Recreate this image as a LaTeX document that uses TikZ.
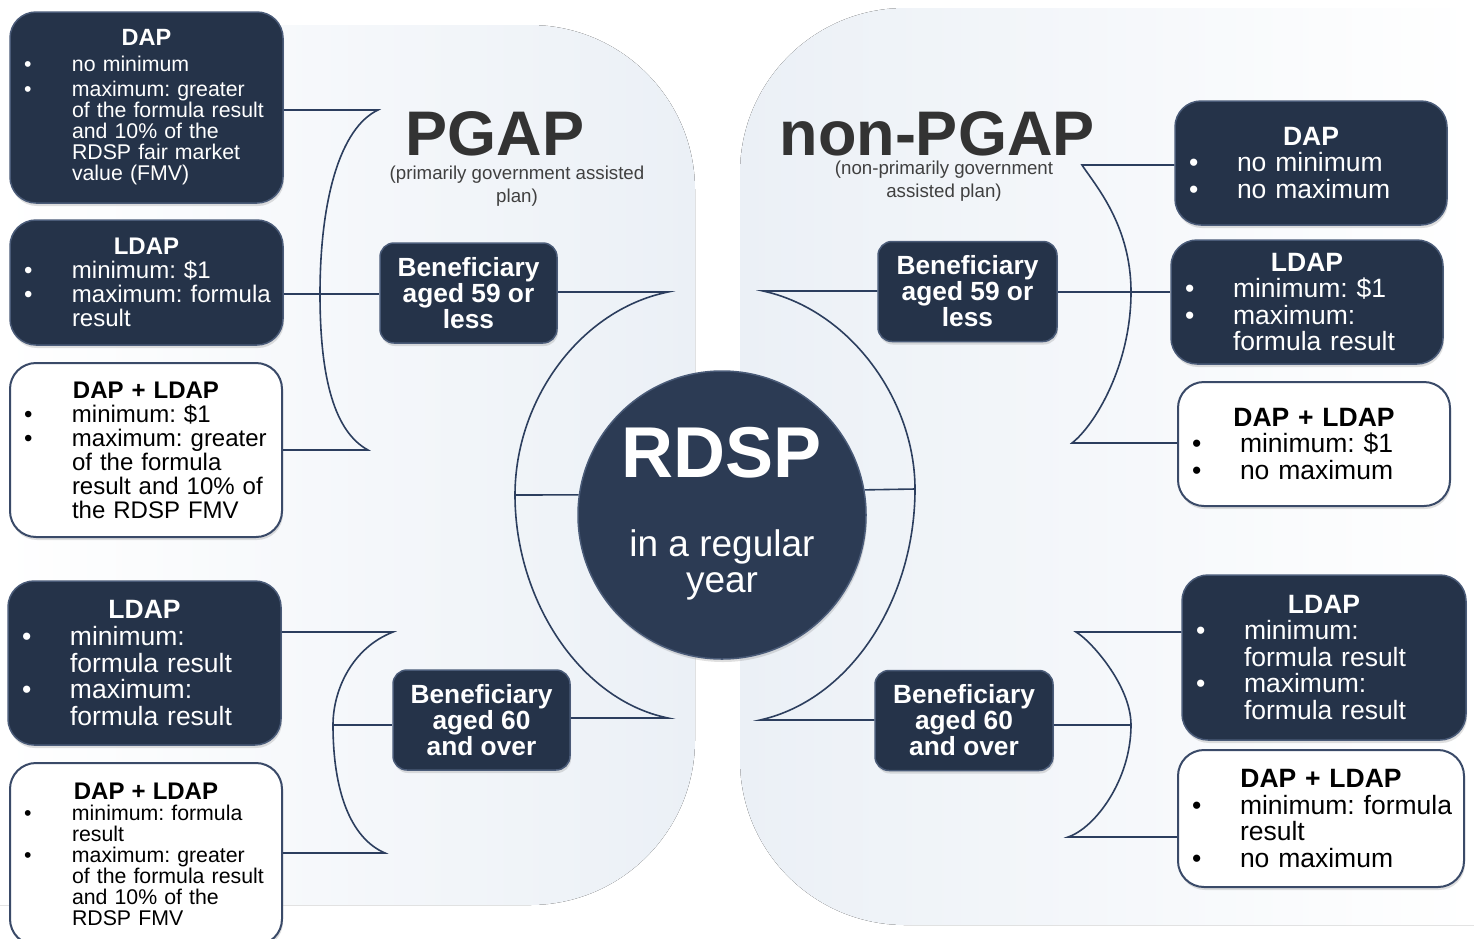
\documentclass[tikz,border=0pt]{standalone}
\usepackage{fontspec}
\setmainfont{Liberation Sans}
\setsansfont{Liberation Sans}
\frenchspacing
\usetikzlibrary{shapes, positioning, shadows}
\definecolor{navyfill}{RGB}{37, 51, 73}
\definecolor{hubfill}{RGB}{44, 59, 84}
\definecolor{navyedge}{RGB}{74, 91, 120}
\definecolor{whiteedge}{RGB}{58, 74, 104}
\definecolor{linknavy}{RGB}{44, 62, 94}
\definecolor{panelblue}{RGB}{235, 240, 246}
\definecolor{titlegray}{RGB}{51, 51, 51}
\definecolor{subgray}{RGB}{64, 64, 64}

\newcommand{\boxhead}[1]{{\centering\bfseries #1\par}}
\newcommand{\bul}[1]{{\parindent=0pt\leftskip=48pt\rightskip=-30pt plus 1fil\noindent\llap{\makebox[48pt][l]{\textbullet}}#1\par}}

\begin{document}
\begin{tikzpicture}[
    x=1pt, y=-1pt,
    base/.style={
        align=left,
        drop shadow={opacity=0.25, shadow xshift=1pt, shadow yshift=-3pt}
    },
    darkbox/.style={
        base,
        rectangle,
        rounded corners=26pt,
        fill=navyfill,
        draw=navyedge,
        line width=1.5pt,
        text=white,
        inner xsep=14pt,
        inner ysep=0pt
    },
    lightbox/.style={
        base,
        rectangle,
        rounded corners=26pt,
        fill=white,
        draw=whiteedge,
        line width=2pt,
        text=black,
        inner xsep=14pt,
        inner ysep=0pt
    },
    agebox/.style={
        base,
        rectangle,
        rounded corners=14pt,
        fill=navyfill,
        draw=navyedge,
        line width=1.5pt,
        text=white,
        align=center,
        inner sep=0pt,
        minimum width=177pt,
        minimum height=100pt,
        font=\fontsize{26.3}{26}\selectfont\bfseries
    },
    hub/.style={
        circle,
        fill=hubfill,
        draw=navyedge,
        line width=1.5pt,
        minimum size=288pt,
        drop shadow={opacity=0.25, shadow xshift=1pt, shadow yshift=-3pt}
    },
    fbig/.style={font=\fontsize{26.5}{26.5}\selectfont},
    fmid/.style={font=\fontsize{24}{24}\selectfont},
    fsmall/.style={font=\fontsize{21.3}{21}\selectfont},
    title/.style={font=\fontsize{63}{63}\selectfont\bfseries, text=titlegray, inner sep=0pt},
    subtitle/.style={font=\fontsize{18.7}{23}\selectfont, text=subgray, align=center, inner sep=0pt},
    link/.style={draw=linknavy, line width=1.6pt}
]
\useasboundingbox (0,0) rectangle (1474,938);

    % Panels
    \fill[left color=white, right color=panelblue, rounded corners=165pt]
        (0,25) -- (695,25) -- (695,905) -- (0,905);
    \fill[left color=panelblue, right color=white, rounded corners=165pt]
        (1474,8) -- (740,8) -- (740,925) -- (1474,925);

    % Titles
    \node[title, anchor=base] (pgapTitle) at (495,155) {PGAP};
    \node[subtitle, anchor=base] (pgapSub) at (517,202) {(primarily government assisted\\plan)};
    \node[title, anchor=base] (npTitle) at (937,155) {non-PGAP};
    \node[subtitle, anchor=base] (npSub) at (944,197) {(non-primarily government\\assisted plan)};

    % Hub
    \node[hub] (rdsp) at (722,515) {};
    \node[font=\fontsize{72}{72}\selectfont\bfseries, text=white, anchor=base, inner sep=0pt] (rdspTitle) at (722,477) {RDSP};
    \node[font=\fontsize{37}{36}\selectfont, text=white, align=center, anchor=base, inner sep=0pt] (rdspSub) at (722,592) {in a regular\\year};

    % Age nodes
    \node[agebox] (pgYoung) at (468.5,293) {Beneficiary\\aged 59 or\\less};
    \node[agebox] (pgOld) at (481.5,720) {Beneficiary\\aged 60\\and over};
    \node[agebox, minimum width=179pt] (npYoung) at (967.5,291.5) {Beneficiary\\aged 59 or\\less};
    \node[agebox, minimum width=178pt] (npOld) at (964,720.5) {Beneficiary\\aged 60\\and over};

    % PGAP payment nodes
    \node[darkbox, fsmall, minimum width=273pt, minimum height=191pt, text width=245pt] (pgDap) at (146.5,107.5)
        {\boxhead{\fontsize{23.5}{23}\selectfont DAP}\vspace{5pt}\bul{no minimum}\vspace{4pt}\bul{maximum: greater\\of the formula result\\and 10\% of the\\RDSP fair market\\value (FMV)}};
    \node[darkbox, fmid, minimum width=273pt, minimum height=125pt, text width=245pt] (pgLdap) at (146.5,282.5)
        {\boxhead{LDAP}\bul{minimum: \$1}\bul{maximum: formula\\result}};
    \node[lightbox, fmid, minimum width=272pt, minimum height=174pt, text width=244pt] (pgBoth) at (146,450)
        {\boxhead{DAP + LDAP}\bul{minimum: \$1}\bul{maximum: greater\\of the formula\\result and 10\% of\\the RDSP FMV}};
    \node[darkbox, fbig, minimum width=273pt, minimum height=164pt, text width=245pt] (pgLdapOld) at (144.5,663)
        {\boxhead{LDAP}\bul{minimum:\\formula result}\bul{maximum:\\formula result}};
    \node[lightbox, fsmall, minimum width=272pt, minimum height=182pt, text width=244pt] (pgBothOld) at (146,854)
        {\boxhead{\fontsize{24}{24}\selectfont DAP + LDAP}\bul{minimum: formula\\result}\bul{maximum: greater\\of the formula result\\and 10\% of the\\RDSP FMV}};

    % non-PGAP payment nodes
    \node[darkbox, fbig, minimum width=272pt, minimum height=124pt, text width=244pt] (npDap) at (1311,163)
        {\boxhead{DAP}\bul{no minimum}\bul{no maximum}};
    \node[darkbox, fbig, minimum width=272pt, minimum height=124pt, text width=244pt] (npLdap) at (1307,302)
        {\boxhead{LDAP}\bul{minimum: \$1}\bul{maximum:\\formula result}};
    \node[lightbox, fbig, minimum width=272pt, minimum height=124pt, text width=244pt] (npBoth) at (1314,444)
        {\boxhead{DAP + LDAP}\bul{minimum: \$1}\bul{no maximum}};
    \node[darkbox, fbig, minimum width=284pt, minimum height=165pt, text width=256pt] (npLdapOld) at (1324,657.5)
        {\boxhead{LDAP}\bul{minimum:\\formula result}\bul{maximum:\\formula result}};
    \node[lightbox, fbig, minimum width=286pt, minimum height=137pt, text width=258pt] (npBothOld) at (1321,818.5)
        {\boxhead{DAP + LDAP}\bul{minimum: formula\\result}\bul{no maximum}};

    % Brackets, PGAP aged 59 or less
    \coordinate (pgA1) at (378,110);
    \coordinate (pgA2) at (320,294);
    \coordinate (pgA3) at (368,450);
    \draw[link] (pgA1 -| pgDap.east) -- (pgA1) .. controls (340,128) and (320,200) .. (pgA2)
        .. controls (320,380) and (335,432) .. (pgA3) -- (pgA3 -| pgBoth.east);
    \draw[link] (pgA2 -| pgLdap.east) -- (pgA2 -| pgYoung.west);

    % Brackets, PGAP aged 60 and over
    \coordinate (pgB1) at (393,632);
    \coordinate (pgB2) at (333,725);
    \coordinate (pgB3) at (385,853);
    \draw[link] (pgB1 -| pgLdapOld.east) -- (pgB1) .. controls (352,648) and (333,690) .. (pgB2)
        .. controls (333,790) and (350,838) .. (pgB3) -- (pgB3 -| pgBothOld.east);
    \draw[link] (pgB2) -- (pgB2 -| pgOld.west);

    % Brackets, non-PGAP aged 59 or less
    \coordinate (npA1) at (1082,165);
    \coordinate (npA2) at (1131,292);
    \coordinate (npA3) at (1072,443);
    \draw[link] (npA1 -| npDap.west) -- (npA1) .. controls (1095,185) and (1131,225) .. (npA2)
        .. controls (1131,365) and (1095,425) .. (npA3) -- (npA3 -| npBoth.west);
    \draw[link] (npA2 -| npYoung.east) -- (npA2 -| npLdap.west);

    % Brackets, non-PGAP aged 60 and over
    \coordinate (npB1) at (1076,632);
    \coordinate (npB2) at (1131,725);
    \coordinate (npB3) at (1068,837);
    \draw[link] (npB1 -| npLdapOld.west) -- (npB1) .. controls (1090,640) and (1131,685) .. (npB2)
        .. controls (1131,780) and (1095,828) .. (npB3) -- (npB3 -| npBothOld.west);
    \draw[link] (npB2 -| npOld.east) -- (npB2);

    % Brackets round the hub
    \coordinate (hubL1) at (668,292);
    \coordinate (hubL2) at (515,495);
    \coordinate (hubL3) at (668,718);
    \draw[link] (hubL1 -| pgYoung.east) -- (hubL1) .. controls (580,310) and (515,400) .. (hubL2)
        .. controls (515,600) and (580,700) .. (hubL3) -- (hubL3 -| pgOld.east);
    \draw[link] (hubL2) -- (rdsp.172);

    \coordinate (hubR1) at (763,291);
    \coordinate (hubR2) at (915,489);
    \coordinate (hubR3) at (760,720);
    \draw[link] (hubR1 -| npYoung.west) -- (hubR1) .. controls (850,310) and (915,400) .. (hubR2)
        .. controls (915,600) and (850,700) .. (hubR3) -- (hubR3 -| npOld.west);
    \draw[link] (rdsp.10.6) -- (hubR2);

\end{tikzpicture}
\end{document}
